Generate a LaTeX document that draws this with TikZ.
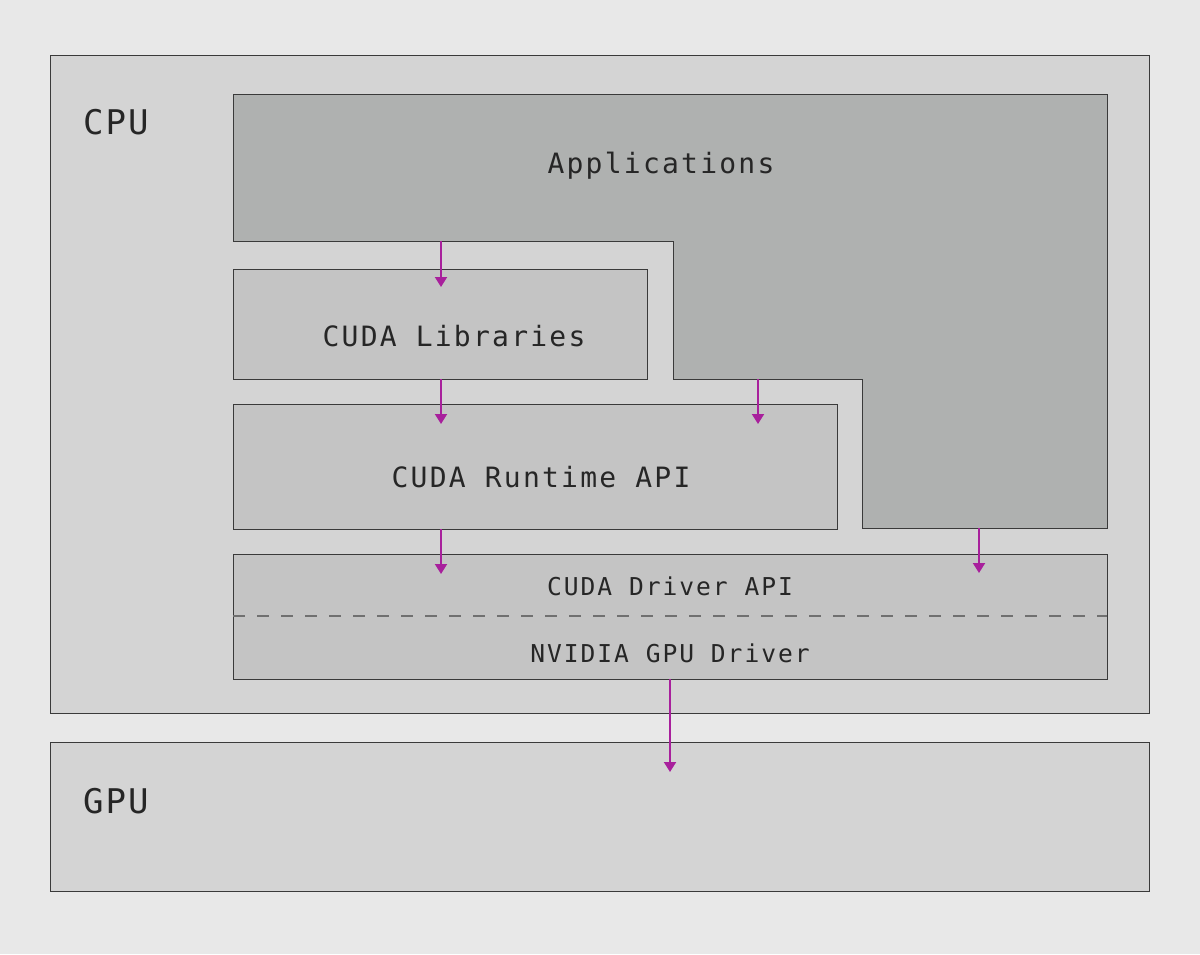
\documentclass[tikz,border=0pt]{standalone}
\usepackage{fontspec}
\newfontfamily\layerfont{DejaVu Sans Mono}[LetterSpace=8]
\newfontfamily\hostfont{DejaVu Sans Mono}[LetterSpace=6]
\usetikzlibrary{positioning,arrows.meta}
\definecolor{pagebg}{HTML}{E8E8E8}
\definecolor{hostbg}{HTML}{D4D4D4}
\definecolor{appbg}{HTML}{AFB1B0}
\definecolor{layerbg}{HTML}{C4C4C4}
\definecolor{flow}{HTML}{A8209C}
\definecolor{edge}{HTML}{3A3A3A}
\definecolor{split}{HTML}{707070}

\begin{document}
\begin{tikzpicture}[x=0.5pt,y=-0.5pt,
		every node/.style = {text=black!85},
		host/.style = {draw=edge, line width=0.5pt, fill=hostbg},
		layer/.style = {draw=edge, line width=0.5pt, fill=layerbg},
		title/.style = {font=\hostfont\fontsize{17}{20}\selectfont, anchor=west},
		big/.style = {font=\layerfont\fontsize{14}{16}\selectfont},
		small/.style = {font=\layerfont\fontsize{12.3}{14}\selectfont},
		flowarrow/.style = {draw=flow, line width=1pt,
			-{Triangle[length=5pt,width=6pt]}}]
	% page
	\fill[pagebg] (0,0) rectangle (1200,954);
	\useasboundingbox (0,0) rectangle (1200,954);
	% hosts
	\draw[host] (50,55) rectangle (1149,713);
	\draw[host] (50,742) rectangle (1149,891);
	\node[title] (cpu) at (76,122) {CPU};
	\node[title] (gpu) at (76,801) {GPU};
	% applications
	\draw[layer, fill=appbg] (233,94) -- (1107,94) -- (1107,528) -- (862,528)
		-- (862,379) -- (673,379) -- (673,241) -- (233,241) -- cycle;
	\node[big] (app) at (661,166) {Applications};
	% layers
	\draw[layer] (233,269) rectangle (647,379);
	\node[big] (lib) at (454,336) {CUDA Libraries};
	\draw[layer] (233,404) rectangle (837,529);
	\node[big] (rt) at (541,477) {CUDA Runtime API};
	\draw[layer] (233,554) rectangle (1107,679);
	\draw[split, line width=1pt, dash pattern=on 6pt off 6pt] (233,616) -- (1107,616);
	\node[small] (drv) at (670,586) {CUDA Driver API};
	\node[small] (nv) at (670,653) {NVIDIA GPU Driver};
	% arrows
	\coordinate (a1) at (441,241); \coordinate (b1) at (441,287);
	\coordinate (a2) at (441,379); \coordinate (b2) at (441,424);
	\coordinate (a3) at (758,379); \coordinate (b3) at (758,424);
	\coordinate (a4) at (441,529); \coordinate (b4) at (441,574);
	\coordinate (a5) at (979,528); \coordinate (b5) at (979,573);
	\coordinate (a6) at (670,679); \coordinate (b6) at (670,772);
	\foreach \i in {1,...,6}
		\draw[flowarrow] (a\i) -- (b\i);
\end{tikzpicture}
\end{document}
